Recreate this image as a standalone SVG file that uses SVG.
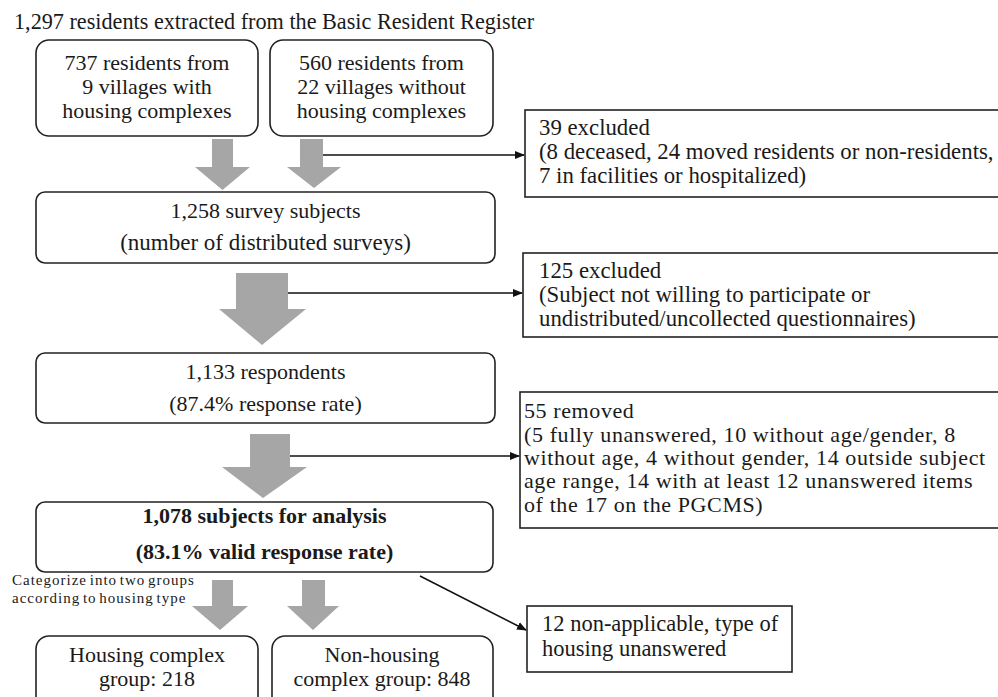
<svg xmlns="http://www.w3.org/2000/svg" width="998" height="697" viewBox="0 0 998 697">
<defs>
<style>
text{font-family:'Liberation Serif','Tinos','DejaVu Serif',serif;fill:#1a1a1a;font-size:22px}
.c{text-anchor:middle}
.b{font-weight:bold}
.r{font-size:22.8px}
.r3{font-size:22px;letter-spacing:0.6px}
.sm{font-size:15px;letter-spacing:1px;word-spacing:-2px}
.box{fill:#fff;stroke:#222;stroke-width:1.6}
.ga{fill:#a6a6a6}
.ln{stroke:#111;stroke-width:1.5;fill:none;marker-end:url(#ah)}
</style>
<marker id="ah" markerWidth="10" markerHeight="10" refX="9" refY="5" orient="auto" markerUnits="userSpaceOnUse">
<path d="M0,1 L10,5 L0,9 Z" fill="#111"/>
</marker>
</defs>
<rect width="998" height="697" fill="#fff"/>
<g font-family="Liberation Serif, serif">
<text x="14" y="29" style="font-size:22.2px">1,297 residents extracted from the Basic Resident Register</text>

<g id="connectors">
<polygon class="ga" points="212,139 233,139 233,167 250,167 222.5,190 195,167 212,167"/>
<polygon class="ga" points="300,139 323,139 323,167 341,167 314,188 287,167 300,167"/>
<polygon class="ga" points="236,273 288,273 288,309 306,309 262,345 219,309 236,309"/>
<polygon class="ga" points="250,434 290,434 290,467 307,467 263,498 222,467 250,467"/>
<polygon class="ga" points="212,580 233,580 233,606 248,606 220,630 192,606 212,606"/>
<polygon class="ga" points="302,580 325,580 325,606 339,606 313,630 287,606 302,606"/>
<line class="ln" x1="323" y1="155" x2="524" y2="155"/>
<line class="ln" x1="288" y1="293" x2="522" y2="293"/>
<line class="ln" x1="290" y1="456" x2="519" y2="456"/>
<line class="ln" x1="420" y1="576" x2="526" y2="630"/>
</g>

<g id="n1">
<rect class="box" x="36" y="40" width="222" height="96" rx="13"/>
<text class="c" x="147" y="70">737 residents from</text>
<text class="c" x="147" y="94">9 villages with</text>
<text class="c" x="147" y="118">housing complexes</text>
</g>
<g id="n2">
<rect class="box" x="270" y="40" width="223" height="96" rx="13"/>
<text class="c" x="381.5" y="70">560 residents from</text>
<text class="c" x="381.5" y="94">22 villages without</text>
<text class="c" x="381.5" y="118">housing complexes</text>
</g>
<g id="n3">
<rect class="box" x="36" y="192" width="459" height="71" rx="9"/>
<text class="c" x="265.5" y="218">1,258 survey subjects</text>
<text class="c" x="265.5" y="250" style="font-size:23px">(number of distributed surveys)</text>
</g>
<g id="n4">
<rect class="box" x="36" y="353" width="459" height="70" rx="9"/>
<text class="c" x="265.5" y="379">1,133 respondents</text>
<text class="c" x="265.5" y="411">(87.4% response rate)</text>
</g>
<g id="n5">
<rect class="box" x="36" y="502" width="457" height="70" rx="9"/>
<text class="c b" x="264.5" y="523">1,078 subjects for analysis</text>
<text class="c b" x="264.5" y="559">(83.1% valid response rate)</text>
</g>
<g id="label">
<text class="sm" x="12" y="585">Categorize into two groups</text>
<text class="sm" x="12" y="603">according to housing type</text>
</g>
<g id="n6">
<rect class="box" x="36" y="636" width="222" height="80" rx="13"/>
<text class="c" x="147" y="662">Housing complex</text>
<text class="c" x="147" y="686">group: 218</text>
</g>
<g id="n7">
<rect class="box" x="272" y="636" width="221" height="80" rx="13"/>
<text class="c" x="382" y="662">Non-housing</text>
<text class="c" x="382" y="686">complex group: 848</text>
</g>
<g id="e1">
<rect class="box" x="525" y="110" width="490" height="87"/>
<text class="r" x="539" y="135">39 excluded</text>
<text class="r" x="539" y="159">(8 deceased, 24 moved residents or non-residents,</text>
<text class="r" x="539" y="183">7 in facilities or hospitalized)</text>
</g>
<g id="e2">
<rect class="box" x="523" y="253" width="492" height="84"/>
<text class="r" x="539" y="278">125 excluded</text>
<text class="r" x="539" y="302">(Subject not willing to participate or</text>
<text class="r" x="539" y="326">undistributed/uncollected questionnaires)</text>
</g>
<g id="e3">
<rect class="box" x="520" y="392" width="495" height="136"/>
<text class="r3" x="524" y="418">55 removed</text>
<text class="r3" x="524" y="442">(5 fully unanswered, 10 without age/gender, 8</text>
<text class="r3" x="524" y="465">without age, 4 without gender, 14 outside subject</text>
<text class="r3" x="524" y="488">age range, 14 with at least 12 unanswered items</text>
<text class="r3" x="524" y="512">of the 17 on the PGCMS)</text>
</g>
<g id="e4">
<rect class="box" x="527" y="606" width="265" height="66"/>
<text x="542" y="631" style="font-size:22.5px">12 non-applicable, type of</text>
<text x="542" y="656" style="font-size:22.5px">housing unanswered</text>
</g>
</g>
</svg>
